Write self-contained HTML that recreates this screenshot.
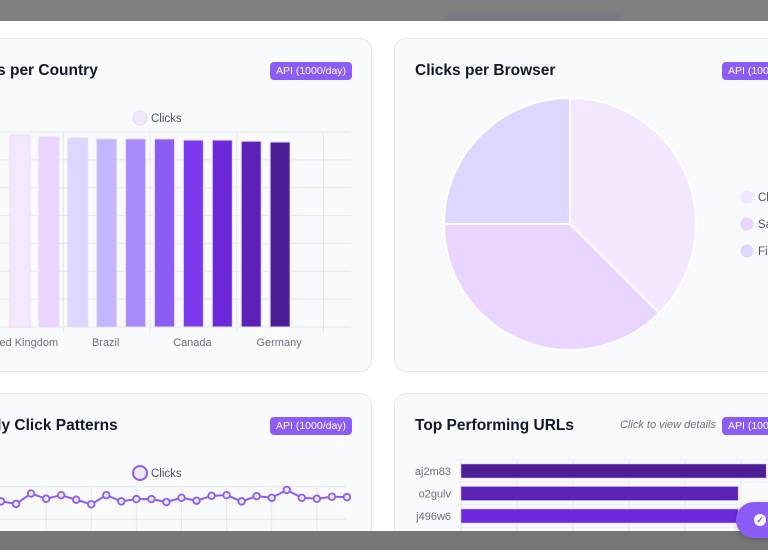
<!DOCTYPE html>
<html style="overflow:hidden;width:768px;height:550px"><head><meta charset="utf-8">
<style>
html,body{margin:0;width:768px;height:550px;overflow:hidden}
body{background:#fff;font-family:"Liberation Sans",sans-serif;position:relative}
.card{position:absolute;background:#f9fafb;border:1px solid #e5e7eb;border-radius:12px;box-sizing:border-box}
.title{position:absolute;font-size:15.5px;font-weight:bold;color:#111827;white-space:nowrap}
.badge{position:absolute;background:#8b5cf6;color:#fff;font-size:10.5px;border-radius:4px;height:18px;line-height:18px;padding:0 6px;white-space:nowrap}
svg text{font-family:"Liberation Sans",sans-serif}
</style></head><body>
<div class="card" style="left:-62px;top:38px;width:434px;height:334px"></div>
<div class="card" style="left:394px;top:38px;width:434px;height:334px"></div>
<div class="card" style="left:-62px;top:393px;width:434px;height:157px"></div>
<div class="card" style="left:394px;top:393px;width:434px;height:157px"></div>

<div class="title" style="left:-40px;top:62px">Clicks per Country</div>
<div class="badge" style="left:270px;top:62px">API (1000/day)</div>
<div class="title" style="left:415px;top:62px">Clicks per Browser</div>
<div class="badge" style="left:722px;top:62px">API (1000/day)</div>
<div class="title" style="left:-39px;top:417px">Hourly Click Patterns</div>
<div class="badge" style="left:270px;top:417px">API (1000/day)</div>
<div class="title" style="left:415px;top:417px">Top Performing URLs</div>
<div style="position:absolute;left:620px;top:419px;font-size:11px;font-style:italic;color:#6b7280">Click to view details</div>
<div class="badge" style="left:722px;top:417px">API (1000/day)</div>

<svg id="charts" width="768" height="550" style="position:absolute;left:0;top:0"></svg>

<div style="position:absolute;left:0;top:0;width:768px;height:21px;background:#808080;overflow:hidden">
<div style="position:absolute;left:445px;top:12px;width:178px;height:16px;border-radius:8px;background:#7a7a84"></div></div>
<div style="position:absolute;left:0;top:531px;width:768px;height:19px;background:#777"></div>
<div style="position:absolute;left:736px;top:502px;width:60px;height:36px;border-radius:18px;background:#8b5cf6;box-shadow:0 2px 6px rgba(0,0,0,.2)">
<div style="position:absolute;left:18px;top:12px;width:12px;height:12px;border-radius:6px;background:#fff;color:#8b5cf6;font-size:9px;line-height:12px;text-align:center;font-weight:bold">✓</div></div>

<script>
const countryLabels=["United Kingdom","France","India","Brazil","Spain","Italy","Canada","Japan","Mexico","Germany","Australia","Netherlands"];
const countryValues=[68.9,68.2,67.8,67.5,67.5,67.5,67.1,67.1,66.7,66.4,0,0];
const countryTicks=[0,10,20,30,40,50,60,70];
const barColors=["#f3e8ff","#e9d5ff","#ddd6fe","#c4b5fd","#a78bfa","#8b5cf6","#7c3aed","#6d28d9","#5b21b6","#4c1d95","#4c1d95","#4c1d95"];
const browserLabels=["Chrome","Safari","Firefox"];
const browserValues=[37.5,37.5,25];
const browserColors=["#f3e8ff","#e9d5ff","#ddd6fe"];
const hourlyValues=[35.5,34.7,37.9,36.3,37.4,36,34.6,37.4,35.5,36.2,36.2,35.3,36.6,35.7,37.2,37.4,35.5,37.1,36.6,39,36.6,36.3,36.9,36.8];
const urlLabels=["aj2m83","o2gulv","j496w6"];
const urlValues=[54.5,49.5,49.5];
const urlColors=["#4c1d95","#5b21b6","#6d28d9"];

const svg=document.getElementById('charts');
const NS='http://www.w3.org/2000/svg';
function mk(t,a,txt){const e=document.createElementNS(NS,t);for(const k in a)e.setAttribute(k,a[k]);if(txt!==undefined)e.textContent=txt;svg.appendChild(e);return e;}

// Bar chart
const bx0=20,bstep=28.9,by0=327,bpx=195/70;
const bxs=i=>bx0+i*bstep, bys=v=>by0-v*bpx;
countryTicks.forEach(t=>{const g=mk('line',{x1:0,x2:351,y1:bys(t),y2:bys(t),stroke:'#e5e7eb'});});
for(let i=1;i<countryLabels.length;i+=3){const g=mk('line',{x1:bxs(i)+bstep/2,x2:bxs(i)+bstep/2,y1:bys(70),y2:by0+6,stroke:'#e5e7eb'});}
countryValues.forEach((v,i)=>{if(v<=0)return;const r=mk('rect',{x:bxs(i)-10,y:bys(v),width:20,height:by0-bys(v),fill:barColors[i],stroke:'#e4dcf5','stroke-width':1});});
countryLabels.forEach((l,i)=>{if(i%3)return;const t=mk('text',{x:bxs(i)-1,y:346,'font-size':11,fill:'#6b7280','text-anchor':'middle'},l);});
let e=mk('circle',{cx:140,cy:118,r:7,fill:'#f3e8ff',stroke:'#e4dcf5'});
e=mk('text',{x:151,y:122,'font-size':11.5,fill:'#4b5563'},'Clicks');

// Pie
const pcx=570,pcy=224,pr=126;const tot=browserValues.reduce((a,b)=>a+b,0);let ang=-Math.PI/2;
browserValues.forEach((v,i)=>{const a2=ang+v/tot*2*Math.PI;const x1=pcx+pr*Math.cos(ang),y1=pcy+pr*Math.sin(ang),x2=pcx+pr*Math.cos(a2),y2=pcy+pr*Math.sin(a2);const big=(a2-ang)>Math.PI?1:0;
const p=mk('path',{d:`M${pcx},${pcy}L${x1},${y1}A${pr},${pr} 0 ${big} 1 ${x2},${y2}Z`,fill:browserColors[i],stroke:'#fff','stroke-width':2});ang=a2;});
browserLabels.forEach((l,i)=>{const c=mk('circle',{cx:747,cy:197+i*27,r:6.5,fill:browserColors[i]});
const t=mk('text',{x:758,y:201+i*27,'font-size':11.5,fill:'#4b5563'},l);});

// Line chart
const lx0=1,lstep=15.04,ly0=519.3,lpx=3.26;
const lxs=i=>lx0+i*lstep, lys=v=>ly0-(v-30)*lpx;
[40,30].forEach(t=>{const g=mk('line',{x1:0,x2:346,y1:lys(t),y2:lys(t),stroke:'#e5e7eb'});});
for(let i=3;i<hourlyValues.length;i+=3){const g=mk('line',{x1:lxs(i),x2:lxs(i),y1:lys(40),y2:531,stroke:'#e5e7eb'});}
e=mk('polyline',{points:hourlyValues.map((v,i)=>lxs(i)+','+lys(v)).join(' '),fill:'none',stroke:'#8b5cf6','stroke-width':2});
hourlyValues.forEach((v,i)=>{const c=mk('circle',{cx:lxs(i),cy:lys(v),r:3.3,fill:'#ede9fe',stroke:'#8b5cf6','stroke-width':1.8});});
e=mk('circle',{cx:140,cy:473,r:7,fill:'#ede9fe',stroke:'#8b5cf6','stroke-width':2});
e=mk('text',{x:151,y:477,'font-size':11.5,fill:'#4b5563'},'Clicks');

// Horizontal bars
const ux0=461,upx=5.6,uy0=471,ustep=22.5;
const uxs=v=>ux0+v*upx;
for(let t=0;t<=60;t+=10){const g=mk('line',{x1:uxs(t),x2:uxs(t),y1:459,y2:531,stroke:'#e5e7eb'});}
for(let i=0;i<=urlLabels.length;i++){const g=mk('line',{x1:455,x2:768,y1:uy0-11.25+i*ustep,y2:uy0-11.25+i*ustep,stroke:'#eceef1'});}
urlValues.forEach((v,i)=>{const r=mk('rect',{x:ux0,y:uy0+i*ustep-7,width:uxs(v)-ux0,height:14,fill:urlColors[i],stroke:'#c4b5fd','stroke-width':0.6});
const t=mk('text',{x:451,y:uy0+i*ustep+4,'font-size':11,fill:'#6b7280','text-anchor':'end'},urlLabels[i]);});
</script>
</body></html>
